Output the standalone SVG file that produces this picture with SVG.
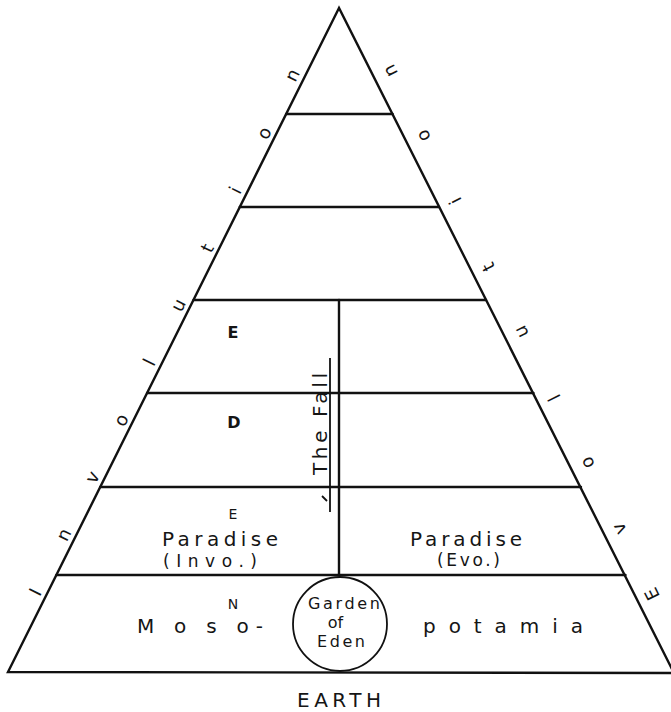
<svg xmlns="http://www.w3.org/2000/svg" width="671" height="712" viewBox="0 0 671 712">
<style>
.ln{stroke:#111;stroke-width:2.4;fill:none;stroke-linecap:round}
.thin{stroke:#111;stroke-width:1.8;fill:none}
text{font-family:"DejaVu Sans","Liberation Sans",sans-serif;fill:#151515}
.side{font-size:18px;text-anchor:middle;dominant-baseline:central}
.lbl{font-size:16px;text-anchor:middle;font-weight:bold}
.big{font-size:20px}
.mid{font-size:17px}
.gd{font-size:16px}
.sm{font-size:14px;text-anchor:middle}
</style>
<rect width="671" height="712" fill="#fff"/>
<g id="connectors">
<polygon class="ln" points="339,8 8,672 674,673"/>
<line class="ln" x1="286.2" y1="114" x2="392.6" y2="114"/>
<line class="ln" x1="239.8" y1="207" x2="439" y2="207"/>
<line class="ln" x1="193.5" y1="300" x2="486" y2="300"/>
<line class="ln" x1="147.1" y1="393" x2="533.5" y2="393"/>
<line class="ln" x1="100.2" y1="487" x2="581" y2="487"/>
<line class="ln" x1="56.4" y1="575" x2="625.5" y2="575"/>
<line class="ln" x1="339" y1="300" x2="339" y2="575"/>
<line class="thin" x1="330" y1="358" x2="330" y2="512"/>
<line class="thin" x1="322" y1="496" x2="327" y2="501"/>
</g>
<g id="involution">
<text class="side" transform="translate(35,592) rotate(-63.5)">I</text>
<text class="side" transform="translate(63.6,534.6) rotate(-63.5)">n</text>
<text class="side" transform="translate(92,477) rotate(-63.5)">v</text>
<text class="side" transform="translate(121,420) rotate(-63.5)">o</text>
<text class="side" transform="translate(149,362) rotate(-63.5)">l</text>
<text class="side" transform="translate(178,305) rotate(-63.5)">u</text>
<text class="side" transform="translate(207,248) rotate(-63.5)">t</text>
<text class="side" transform="translate(235,190) rotate(-63.5)">i</text>
<text class="side" transform="translate(264,133) rotate(-63.5)">o</text>
<text class="side" transform="translate(292,75) rotate(-63.5)">n</text>
</g>
<g id="evolution">
<text class="side" transform="translate(652,594) rotate(-116.6)">E</text>
<text class="side" transform="translate(619,529) rotate(-116.6)">v</text>
<text class="side" transform="translate(587,463) rotate(-116.6)">o</text>
<text class="side" transform="translate(554,398) rotate(-116.6)">l</text>
<text class="side" transform="translate(521,332) rotate(-116.6)">u</text>
<text class="side" transform="translate(488,267) rotate(-116.6)">t</text>
<text class="side" transform="translate(455,201) rotate(-116.6)">i</text>
<text class="side" transform="translate(423,136) rotate(-116.6)">o</text>
<text class="side" transform="translate(390,71) rotate(-116.6)">n</text>
</g>
<g id="level-E"><text class="lbl" x="233" y="338">E</text></g>
<g id="level-D"><text class="lbl" x="234" y="428">D</text></g>
<g id="the-fall"><text class="big" transform="translate(327,424) rotate(-90)" text-anchor="middle" textLength="102" lengthAdjust="spacing">The Fall</text></g>
<g id="paradise-invo">
<text class="sm" x="233" y="519">E</text>
<text class="big" x="162" y="546" textLength="116" lengthAdjust="spacing">Paradise</text>
<text class="mid" x="163" y="567" textLength="94" lengthAdjust="spacing">(Invo.)</text>
</g>
<g id="paradise-evo">
<text class="big" x="410" y="546" textLength="112" lengthAdjust="spacing">Paradise</text>
<text class="mid" x="437" y="566" textLength="63" lengthAdjust="spacing">(Evo.)</text>
</g>
<g id="mesopotamia">
<text class="sm" x="233" y="609">N</text>
<text class="big" x="137" y="633" textLength="126" lengthAdjust="spacing">M o s o-</text>
<text class="big" x="423" y="633" textLength="160" lengthAdjust="spacing">p o t a m i a</text>
</g>
<g id="garden-of-eden">
<circle class="thin" cx="340" cy="624" r="47"/>
<text class="gd" x="308" y="609" textLength="72" lengthAdjust="spacing">Garden</text>
<text class="gd" x="335.5" y="628" text-anchor="middle">of</text>
<text class="gd" x="317" y="647" textLength="48" lengthAdjust="spacing">Eden</text>
</g>
<g id="earth"><text class="big" x="297" y="707" textLength="84" lengthAdjust="spacing">EARTH</text></g>
</svg>
